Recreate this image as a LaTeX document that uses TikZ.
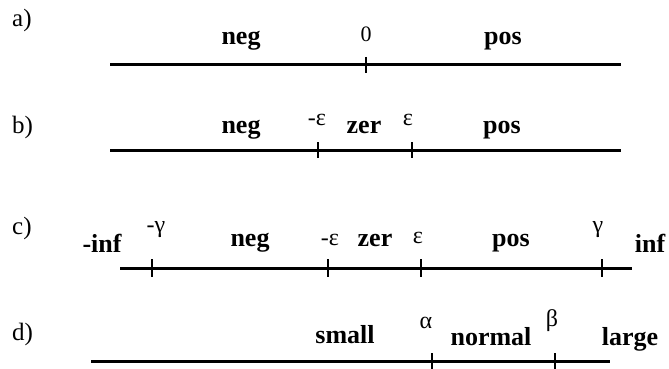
\documentclass[tikz,border=0pt]{standalone}
\usepackage{fontspec}
\setmainfont{Liberation Serif}
\begin{document}
\begin{tikzpicture}[x=1pt,y=-1pt,
  axis/.style={line width=3pt},
  tickline/.style={line width=2.2pt},
  lbl/.style={inner sep=0pt,anchor=base,font=\fontsize{26}{30}\selectfont\bfseries},
  sym/.style={inner sep=0pt,anchor=base,font=\fontsize{24}{28}\selectfont},
  digit/.style={inner sep=0pt,anchor=base,font=\fontsize{22}{26}\selectfont},
  row/.style={inner sep=0pt,anchor=base west,font=\fontsize{25}{30}\selectfont}]
\useasboundingbox (0,0) rectangle (669,369);
% row a
\node[row] (la) at (12,27) {a)};
\coordinate (a1) at (110,65);
\coordinate (a2) at (621,65);
\coordinate (ta) at (366,65);
\draw[axis] (a1) -- (a2);
\draw[tickline] (ta) ++(0,-8) -- ++(0,16);
\node[lbl] (aneg) at (241,45) {neg};
\node[digit] (azero) at (366,42) {0};
\node[lbl] (apos) at (503,45) {pos};
% row b
\node[row] (lb) at (12,133) {b)};
\coordinate (b1) at (110,150);
\coordinate (b2) at (621,150);
\coordinate (tb1) at (318,150);
\coordinate (tb2) at (412,150);
\draw[axis] (b1) -- (b2);
\draw[tickline] (tb1) ++(0,-8) -- ++(0,16);
\draw[tickline] (tb2) ++(0,-8) -- ++(0,16);
\node[lbl] (bneg) at (241,133) {neg};
\node[sym] (bme) at (317,125) {-ε};
\node[lbl] (bzer) at (364,133) {zer};
\node[sym] (be) at (408,125) {ε};
\node[lbl] (bpos) at (502,133) {pos};
% row c
\node[row] (lc) at (12,234) {c)};
\coordinate (c1) at (120,268);
\coordinate (c2) at (632,268);
\coordinate (tc1) at (152,268);
\coordinate (tc2) at (328,268);
\coordinate (tc3) at (421,268);
\coordinate (tc4) at (602,268);
\draw[axis] (c1) -- (c2);
\draw[tickline] (tc1) ++(0,-9) -- ++(0,18);
\draw[tickline] (tc2) ++(0,-9) -- ++(0,18);
\draw[tickline] (tc3) ++(0,-9) -- ++(0,18);
\draw[tickline] (tc4) ++(0,-9) -- ++(0,18);
\node[lbl] (cminf) at (102,252) {-inf};
\node[sym] (cmg) at (156,232) {-γ};
\node[lbl] (cneg) at (250,246) {neg};
\node[sym] (cme) at (330,245) {-ε};
\node[lbl] (czer) at (375,246) {zer};
\node[sym] (ce) at (418,243) {ε};
\node[lbl] (cpos) at (511,246) {pos};
\node[sym] (cg) at (598,232) {γ};
\node[lbl] (cinf) at (650,252) {inf};
% row d
\node[row] (ld) at (12,340) {d)};
\coordinate (d1) at (91,361);
\coordinate (d2) at (610,361);
\coordinate (td1) at (432,361);
\coordinate (td2) at (555,361);
\draw[axis] (d1) -- (d2);
\draw[tickline] (td1) ++(0,-8) -- ++(0,16);
\draw[tickline] (td2) ++(0,-8) -- ++(0,16);
\node[lbl] (dsmall) at (345,343) {small};
\node[sym] (dal) at (426,328) {α};
\node[lbl] (dnormal) at (491,345) {normal};
\node[sym] (dbe) at (552,326) {β};
\node[lbl] (dlarge) at (630,345) {large};
\end{tikzpicture}
\end{document}
